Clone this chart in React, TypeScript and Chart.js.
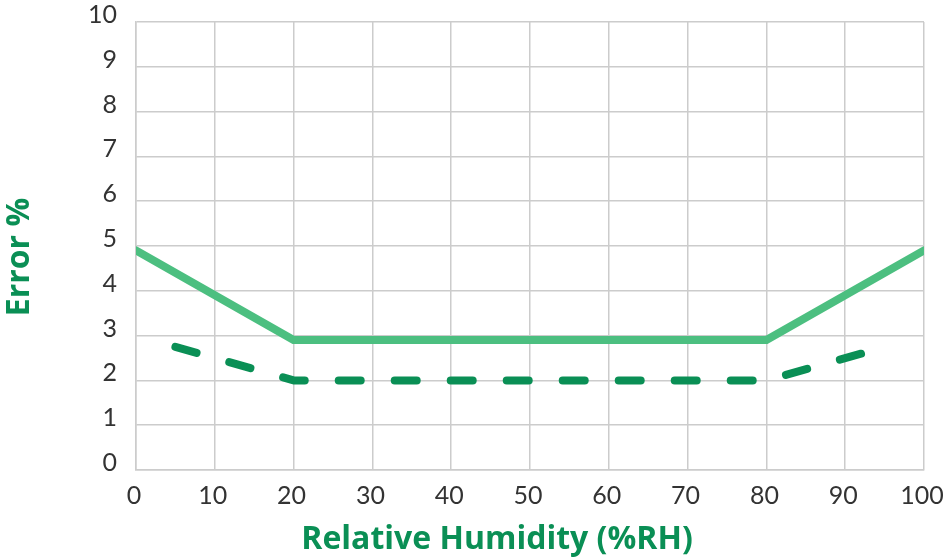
import React, { useEffect, useRef } from "react";
import { Chart, registerables } from "chart.js";

Chart.register(...registerables);

const solidX = [0, 20, 80, 100];
const solidY = [4.9, 2.9, 2.9, 4.9];
const dashedX = [5, 20, 80, 92.5];
const dashedY = [2.75, 2.0, 2.0, 2.62];
const xTicks = [0, 10, 20, 30, 40, 50, 60, 70, 80, 90, 100];
const yTicks = [0, 1, 2, 3, 4, 5, 6, 7, 8, 9, 10];
const xTitle = "Relative Humidity (%RH)";
const yTitle = "Error %";

const TITLE_COLOR = "#0a8f55";
const TITLE_FONT = "bold 32px 'Open Sans'";

const titlePlugin = {
  id: "axisTitles",
  afterDraw(chart: any) {
    const { ctx, chartArea } = chart;
    ctx.save();
    ctx.fillStyle = TITLE_COLOR;
    ctx.font = TITLE_FONT;
    ctx.textAlign = "center";
    ctx.textBaseline = "middle";
    const cx = (chartArea.left + chartArea.right) / 2 - 33;
    ctx.fillText(xTitle, cx, 540);
    const cy = (chartArea.top + chartArea.bottom) / 2 + 11;
    ctx.translate(20, cy);
    ctx.rotate(-Math.PI / 2);
    ctx.fillText(yTitle, 0, 0);
    ctx.restore();
  },
};

export default function App() {
  const ref = useRef<HTMLCanvasElement | null>(null);
  useEffect(() => {
    document.body.style.margin = "0";
    const ctx = ref.current!;
    const tickFont = { family: "Lato", size: 25 };
    const chart = new Chart(ctx, {
      type: "line",
      data: {
        datasets: [
          {
            data: solidX.map((x, i) => ({ x, y: solidY[i] })),
            borderColor: "#4cbf80",
            borderWidth: 8,
            pointRadius: 0,
            borderCapStyle: "round",
            borderJoinStyle: "round",
            tension: 0,
          },
          {
            data: dashedX.map((x, i) => ({ x, y: dashedY[i] })),
            borderColor: "#0a8f55",
            borderWidth: 8,
            pointRadius: 0,
            borderDash: [22, 34],
            borderCapStyle: "round",
            borderJoinStyle: "round",
            tension: 0,
          },
        ],
      },
      options: {
        animation: false,
        responsive: false,
        maintainAspectRatio: false,
        layout: { padding: { left: 0, right: 19, top: 22, bottom: 0 } },
        plugins: { legend: { display: false }, tooltip: { enabled: false } },
        scales: {
          x: {
            type: "linear",
            min: 0,
            max: 100,
            afterBuildTicks: (s: any) => {
              s.ticks = xTicks.map((v) => ({ value: v }));
            },
            afterFit: (s: any) => {
              s.height = 90;
              s.paddingLeft = 0;
              s.paddingRight = 0;
            },
            grid: { color: "#cccccc", lineWidth: 1.5, drawTicks: false },
            border: { color: "#cccccc", width: 1.5 },
            ticks: {
              padding: 11,
              labelOffset: -2,
              color: "#333333",
              font: tickFont,
              maxRotation: 0,
            },
            title: { display: false },
          },
          y: {
            type: "linear",
            min: 0,
            max: 10,
            afterBuildTicks: (s: any) => {
              s.ticks = yTicks.map((v) => ({ value: v }));
            },
            afterFit: (s: any) => {
              s.width = 136;
              s.paddingTop = 0;
              s.paddingBottom = 0;
            },
            grid: { color: "#cccccc", lineWidth: 1.5, drawTicks: false },
            border: { color: "#cccccc", width: 1.5 },
            ticks: {
              padding: 19,
              labelOffset: -7,
              color: "#333333",
              font: tickFont,
            },
            title: { display: false },
          },
        },
      },
      plugins: [titlePlugin],
    });
    return () => chart.destroy();
  }, []);
  return (
    <div style={{ width: 943, height: 560 }}>
      <canvas ref={ref} width={943} height={560} style={{ width: 943, height: 560 }} />
    </div>
  );
}
